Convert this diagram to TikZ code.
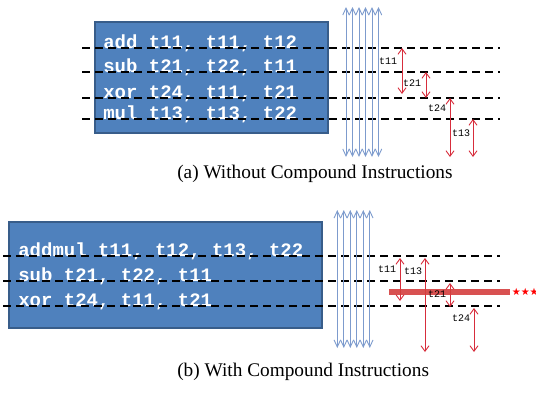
\documentclass[tikz,border=0pt]{standalone}
\usepackage{fontspec}
\setmainfont{Liberation Serif}
\setmonofont{Liberation Mono}
\newfontfamily\symfont{DejaVu Sans}
\usetikzlibrary{arrows.meta}
\definecolor{boxblue}{RGB}{79,129,189}
\definecolor{boxedge}{RGB}{56,93,138}
\definecolor{clkblue}{RGB}{125,155,205}
\definecolor{lifered}{RGB}{215,45,60}
\definecolor{barred}{RGB}{212,62,62}
\begin{document}
\begin{tikzpicture}[x=1pt,y=-1pt,semithick,
    box/.style={draw=boxedge,fill=boxblue,line width=1.5pt,inner sep=0pt},
    instr/.style={anchor=base west,inner sep=0pt,text=white,font=\fontsize{19}{19}\selectfont\ttfamily\bfseries},
    level/.style={dash pattern=on 8pt off 5pt,line width=1.6pt},
    clk/.style={clkblue,line width=0.9pt,{Straight Barb[length=7pt,width=6.5pt]}-{Straight Barb[length=7pt,width=6.5pt]}},
    life/.style={lifered,line width=0.9pt,{Straight Barb[length=5.5pt,width=8pt]}-{Straight Barb[length=5.5pt,width=8pt]}},
    reg/.style={inner sep=0pt,font=\fontsize{10}{10}\selectfont\ttfamily},
    caption/.style={anchor=base west,inner sep=0pt,font=\fontsize{19.3}{19.3}\selectfont}]
    \useasboundingbox(0,0)rectangle(536,402);
    % (a) without compound instructions
    \node[box,minimum width=233pt,minimum height=111pt](boxa)at(211.5,77.5){};
    \node[instr](ia1)at(103,48){add t11, t11, t12};
    \node[instr](ia2)at(103,72){sub t21, t22, t11};
    \node[instr](ia3)at(103,98){xor t24, t11, t21};
    \node[instr](ia4)at(103,119){mul t13, t13, t22};
    \draw[level](82,48)--(500,48);\draw[level](82,72)--(500,72);
    \draw[level](82,98)--(500,98);\draw[level](82,119)--(500,119);
    \coordinate(ca1)at(346,7);\coordinate(ca2)at(352.5,7);\coordinate(ca3)at(359,7);
    \coordinate(ca4)at(365.5,7);\coordinate(ca5)at(372,7);\coordinate(ca6)at(378.5,7);
    \draw[clk](ca1)--++(0,150);\draw[clk](ca2)--++(0,150);\draw[clk](ca3)--++(0,150);
    \draw[clk](ca4)--++(0,150);\draw[clk](ca5)--++(0,150);\draw[clk](ca6)--++(0,150);
    \coordinate(a11t)at(402,48);\coordinate(a11b)at(402,94);\draw[life](a11t)--(a11b);
    \coordinate(a21t)at(426,72);\coordinate(a21b)at(426,98);\draw[life](a21t)--(a21b);
    \coordinate(a24t)at(450,98);\coordinate(a24b)at(450,157);\draw[life](a24t)--(a24b);
    \coordinate(a13t)at(473,119);\coordinate(a13b)at(473,157);\draw[life](a13t)--(a13b);
    \node[reg]at(388,61){t11};\node[reg]at(412,83){t21};
    \node[reg]at(437,108){t24};\node[reg]at(461,133){t13};
    \node[caption](capa)at(177,178){(a) Without Compound Instructions};
    % (b) with compound instructions
    \node[box,minimum width=313pt,minimum height=106pt](boxb)at(165.5,275){};
    \node[instr](ib1)at(18,256){addmul t11, t12, t13, t22};
    \node[instr](ib2)at(18,281){sub t21, t22, t11};
    \node[instr](ib3)at(18,306){xor t24, t11, t21};
    \draw[level](3,256)--(500,256);\draw[level](3,281)--(500,281);\draw[level](3,306)--(500,306);
    \coordinate(cb1)at(337.3,210);\coordinate(cb2)at(343.8,210);\coordinate(cb3)at(350.3,210);
    \coordinate(cb4)at(356.8,210);\coordinate(cb5)at(363.3,210);\coordinate(cb6)at(369.8,210);
    \draw[clk](cb1)--++(0,138);\draw[clk](cb2)--++(0,138);\draw[clk](cb3)--++(0,138);
    \draw[clk](cb4)--++(0,138);\draw[clk](cb5)--++(0,138);\draw[clk](cb6)--++(0,138);
    \coordinate(b11t)at(400,258);\coordinate(b11b)at(400,301);\draw[life](b11t)--(b11b);
    \coordinate(b13t)at(425,258);\coordinate(b13b)at(425,352);\draw[life](b13t)--(b13b);
    \coordinate(b21t)at(450,283);\coordinate(b21b)at(450,307);\draw[life](b21t)--(b21b);
    \coordinate(b24t)at(474,308);\coordinate(b24b)at(474,352);\draw[life](b24t)--(b24b);
    \coordinate(barw)at(389,292);\coordinate(bare)at(510,292);
    \draw[barred,line width=6pt,opacity=0.9](barw)--(bare);
    \node[text=red,anchor=west,inner sep=1.5pt,font=\fontsize{10}{10}\selectfont\symfont](stars)at(bare){★★★};
    \node[reg]at(387,269){t11};\node[reg]at(413,271){t13};
    \node[reg]at(437,294){t21};\node[reg]at(461,318){t24};
    \node[caption](capb)at(177,376){(b) With Compound Instructions};
\end{tikzpicture}
\end{document}
